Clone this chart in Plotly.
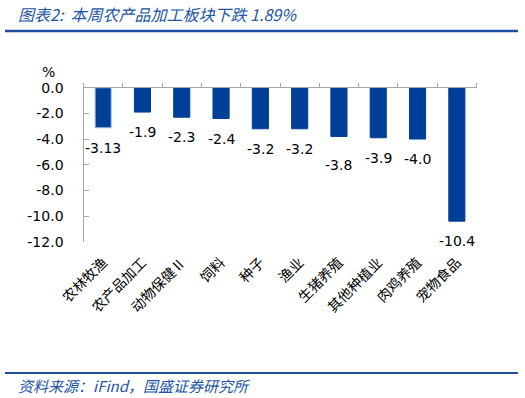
import plotly.graph_objects as go

categories = ["农林牧渔", "农产品加工", "动物保健Ⅱ", "饲料", "种子", "渔业",
              "生猪养殖", "其他种植业", "肉鸡养殖", "宠物食品"]
values = [-3.13, -1.9, -2.3, -2.4, -3.2, -3.2, -3.8, -3.9, -4.0, -10.4]
value_labels = ["-3.13", "-1.9", "-2.3", "-2.4", "-3.2", "-3.2", "-3.8", "-3.9", "-4.0", "-10.4"]
y_tickvals = [0, -2, -4, -6, -8, -10, -12]
y_ticktext = ["0.0", "-2.0", "-4.0", "-6.0", "-8.0", "-10.0", "-12.0"]
title_text = "图表2:  本周农产品加工板块下跌 1.89%"
source_text = "资料来源：iFind，国盛证券研究所"

W, H = 525, 398
BAR = "#003F97"
BLUE_TXT = "#2255A4"
label_shift = [-20, -20, -20, -20, -20, -20, -29, -20, -20, -20]

def px(x):
    return x / W

def py(y):
    return 1 - y / H

fig = go.Figure()
fig.add_trace(go.Bar(
    x=categories, y=values, xaxis="x", yaxis="y",
    marker=dict(color=BAR,
                line=dict(color=["#A9C8EE"] + [BAR] * (len(values) - 1), width=1)),
    hoverinfo="skip", showlegend=False,
))
# invisible trace to carry the top axis line/ticks
fig.add_trace(go.Scatter(
    x=categories, y=[0] * len(categories), xaxis="x2", yaxis="y",
    mode="markers", marker=dict(opacity=0), hoverinfo="skip", showlegend=False,
))

for c, v, t, s in zip(categories, values, value_labels, label_shift):
    fig.add_annotation(x=c, y=v, xref="x", yref="y", text=t, showarrow=False,
                       yshift=s, yanchor="middle",
                       font=dict(family="DejaVu Sans", size=14, color="black"))

fig.add_annotation(x=px(48), y=py(72), xref="paper", yref="paper", text="%",
                   showarrow=False, xanchor="center", yanchor="middle",
                   font=dict(family="DejaVu Sans", size=14, color="black"))
fig.add_annotation(x=px(16), y=py(14), xref="paper", yref="paper", xanchor="left",
                   yanchor="middle", text="<i>" + title_text + "</i>", showarrow=False,
                   font=dict(family="Noto Sans CJK SC", size=16, color=BLUE_TXT))
fig.add_annotation(x=px(16), y=py(385), xref="paper", yref="paper", xanchor="left",
                   yanchor="middle", text="<i>" + source_text + "</i>", showarrow=False,
                   font=dict(family="Noto Sans CJK SC", size=15, color=BLUE_TXT))

fig.add_shape(type="line", xref="paper", yref="paper", x0=px(5), x1=px(518),
              y0=py(31), y1=py(31), line=dict(color="#1F4E9E", width=2.5))
fig.add_shape(type="line", xref="paper", yref="paper", x0=px(5), x1=px(518),
              y0=py(373), y1=py(373), line=dict(color="#1F4E9E", width=2))

x_dom = [px(83.5), px(476.5)]
x_range = [-0.5, len(categories) - 0.5]
fig.update_layout(
    width=W, height=H, margin=dict(l=0, r=0, t=0, b=0, autoexpand=False),
    paper_bgcolor="white", plot_bgcolor="white",
    bargap=0.59,
    xaxis=dict(domain=x_dom, anchor="y", side="bottom", showline=False,
               range=x_range, automargin=False,
               ticks="", showgrid=False, tickangle=-45,
               tickfont=dict(family="Noto Sans CJK SC", size=14, color="black"),
               ticklabelstandoff=9),
    xaxis2=dict(domain=x_dom, anchor="y", side="top", overlaying="x",
                range=x_range, automargin=False,
                showline=True, linecolor="#A6A6A6", linewidth=1.3,
                ticks="outside", ticklen=4, tickcolor="#A6A6A6",
                tickson="boundaries", showticklabels=False, showgrid=False),
    yaxis=dict(domain=[py(241.7), py(87.7)], range=[-12, 0], automargin=False,
               tickvals=y_tickvals, ticktext=y_ticktext,
               showline=True, linecolor="#A6A6A6", linewidth=1.3,
               ticks="inside", ticklen=5, tickcolor="#A6A6A6",
               showgrid=False, zeroline=False,
               tickfont=dict(family="DejaVu Sans", size=14, color="black"),
               ticklabelstandoff=16),
)

fig.write_html("out.html")
